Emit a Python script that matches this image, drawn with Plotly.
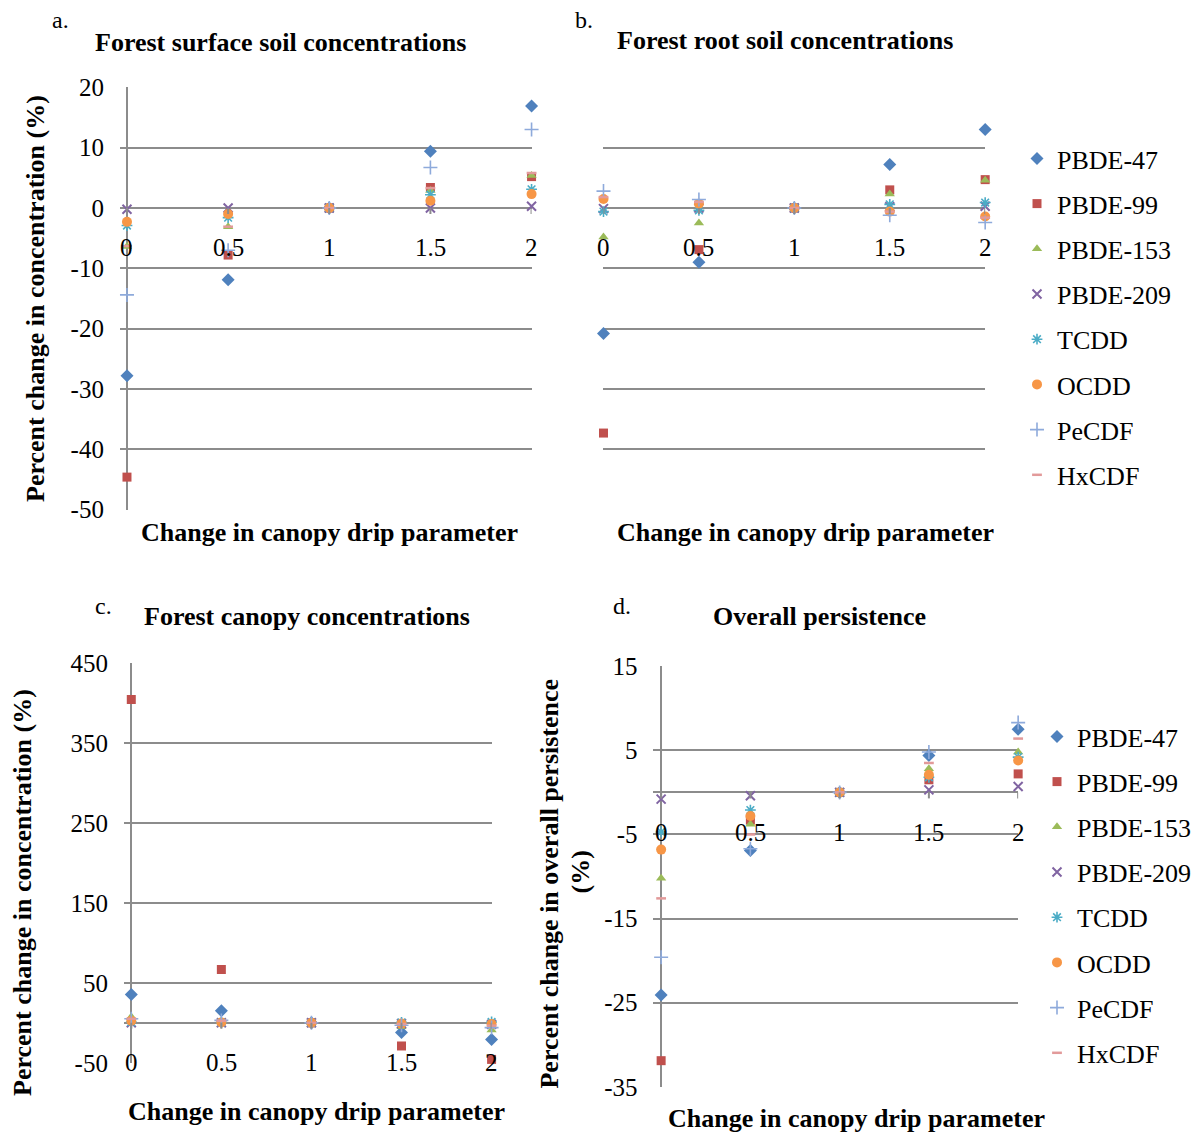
import plotly.graph_objects as go

# ---------------- data ----------------
X_VALUES = [0, 0.5, 1, 1.5, 2]
X_TICK_LABELS = ["0", "0.5", "1", "1.5", "2"]
SERIES = ["PBDE-47", "PBDE-99", "PBDE-153", "PBDE-209", "TCDD", "OCDD", "PeCDF", "HxCDF"]

surface_soil = {
    "PBDE-47": [-27.8, -11.9, 0, 9.4, 16.9],
    "PBDE-99": [-44.6, -7.8, 0, 3.4, 5.2],
    "PBDE-153": [-6.4, -3.1, 0, 2.9, 5.4],
    "PBDE-209": [-0.2, 0.0, 0, 0.0, 0.3],
    "TCDD": [-2.9, -1.6, 0, 2.2, 3.1],
    "OCDD": [-2.3, -1.0, 0, 1.2, 2.3],
    "PeCDF": [-14.4, -7.0, 0, 6.7, 13.0],
    "HxCDF": [-6.3, -3.1, 0, 3.3, 5.8],
}
root_soil = {
    "PBDE-47": [-20.8, -9.0, 0, 7.2, 13.0],
    "PBDE-99": [-37.3, -6.9, 0, 3.0, 4.7],
    "PBDE-153": [-4.8, -2.5, 0, 2.3, 4.6],
    "PBDE-209": [-0.1, 0.0, 0, 0.2, 0.3],
    "TCDD": [-0.6, -0.4, 0, 0.6, 0.9],
    "OCDD": [1.5, 0.7, 0, -0.6, -1.4],
    "PeCDF": [2.8, 1.4, 0, -1.2, -2.4],
    "HxCDF": [1.8, 1.0, 0, -0.6, -1.6],
}
canopy = {
    "PBDE-47": [35.5, 15.0, 0, -12.0, -20.8],
    "PBDE-99": [404.6, 66.7, 0, -29.0, -45.8],
    "PBDE-153": [7.5, 2.0, 0, -5.0, -9.0],
    "PBDE-209": [0.0, 0.0, 0, -1.0, -2.0],
    "TCDD": [1.0, 0.5, 0, 0.5, 1.0],
    "OCDD": [2.5, 0.5, 0, -1.0, -1.5],
    "PeCDF": [5.0, 3.0, 0, -3.0, -6.0],
    "HxCDF": [5.0, 2.5, 0, -1.5, -3.5],
}
persistence = {
    "PBDE-47": [-24.1, -6.9, 0, 4.4, 7.5],
    "PBDE-99": [-31.9, -3.3, 0, 1.5, 2.2],
    "PBDE-153": [-10.2, -3.8, 0, 2.8, 4.8],
    "PBDE-209": [-0.8, -0.4, 0, 0.3, 0.7],
    "TCDD": [-4.7, -2.1, 0, 1.8, 4.2],
    "OCDD": [-6.8, -2.8, 0, 2.1, 3.8],
    "PeCDF": [-19.6, -6.7, 0, 4.8, 8.3],
    "HxCDF": [-12.6, -5.0, 0, 3.5, 6.4],
}

Y_TICKS_SOIL = [20, 10, 0, -10, -20, -30, -40, -50]
Y_TICKS_CANOPY = [450, 350, 250, 150, 50, -50]
Y_TICKS_PERSIST = [15, 5, -5, -15, -25, -35]

# ---------------- styles ----------------
STYLE = {
    "PBDE-47": dict(symbol="diamond", color="#4F81BD", size=10, lw=0),
    "PBDE-99": dict(symbol="square", color="#C0504D", size=9, lw=0),
    "PBDE-153": dict(symbol="triangle-up", color="#9BBB59", size=9, lw=0),
    "PBDE-209": dict(symbol="x-thin-open", color="#8064A2", size=9, lw=2),
    "TCDD": dict(symbol="asterisk-open", color="#4BACC6", size=9, lw=1.6),
    "OCDD": dict(symbol="circle", color="#F79646", size=10, lw=0),
    "PeCDF": dict(symbol="cross-thin-open", color="#8EAADB", size=10, lw=1.6),
    "HxCDF": dict(symbol="line-ew-open", color="#E29A9A", size=7, lw=2.5),
}

W, H = 1197, 1133
FONT = "Liberation Serif, Times New Roman, serif"
GRID = "#8C8C8C"
TICK_SIZE = 25
TITLE_SIZE = 26


def px_x(p):
    return p / W


def px_y(p):
    return 1 - p / H


fig = go.Figure()

panels = [
    dict(data=surface_soil, xa="x", ya="y", xd=(120, 532), yd=(87, 510),
         xr=[-0.035, 2], yr=[-50.05, 20.05], yt=Y_TICKS_SOIL, axis=True, legend="legend", show=True),
    dict(data=root_soil, xa="x2", ya="y2", xd=(604, 986), yd=(87, 510),
         xr=[0, 2], yr=[-50.05, 20.05], yt=Y_TICKS_SOIL, axis=False, legend="legend", show=False),
    dict(data=canopy, xa="x3", ya="y3", xd=(124, 492), yd=(663, 1063),
         xr=[-0.041, 2], yr=[-50.3, 450.3], yt=Y_TICKS_CANOPY, axis=True, legend="legend2", show=False),
    dict(data=persistence, xa="x4", ya="y4", xd=(654, 1019), yd=(666, 1087),
         xr=[-0.043, 2], yr=[-35.03, 15.03], yt=Y_TICKS_PERSIST, axis=True, legend="legend2", show=True),
]

layout_axes = {}
annotations = []
shapes = []
for i, p in enumerate(panels):
    suffix = "" if i == 0 else str(i + 1)
    for name in SERIES:
        st = STYLE[name]
        fig.add_trace(go.Scatter(
            x=X_VALUES, y=p["data"][name], mode="markers", name=name,
            xaxis=p["xa"], yaxis=p["ya"], cliponaxis=False,
            legend=p["legend"], legendgroup=name + suffix, showlegend=p["show"],
            marker=dict(symbol=st["symbol"], color=st["color"], size=st["size"],
                        line=dict(color=st["color"], width=st["lw"])),
        ))
    layout_axes["xaxis" + suffix] = dict(
        domain=[px_x(p["xd"][0]), px_x(p["xd"][1])], range=p["xr"],
        anchor=p["ya"], showgrid=False, showticklabels=False, showline=False, ticks="",
        zeroline=p["axis"], zerolinecolor=GRID, zerolinewidth=2, fixedrange=True,
        automargin=False,
    )
    layout_axes["yaxis" + suffix] = dict(
        domain=[px_y(p["yd"][1]), px_y(p["yd"][0])], range=p["yr"],
        anchor=p["xa"], tickvals=p["yt"], ticktext=[str(v) for v in p["yt"]],
        showticklabels=p["axis"], ticklabelstandoff=15,
        tickfont=dict(family=FONT, size=TICK_SIZE, color="black"),
        showgrid=True, gridcolor=GRID, gridwidth=2,
        zeroline=True, zerolinecolor=GRID, zerolinewidth=2, showline=False, ticks="",
        fixedrange=True, automargin=False,
    )
    # x tick labels along the zero line, and small tick marks
    for xv, lab in zip(X_VALUES, X_TICK_LABELS):
        annotations.append(dict(
            x=xv, y=0, xref=p["xa"], yref=p["ya"], text=lab, showarrow=False,
            yshift=-40, font=dict(family=FONT, size=TICK_SIZE, color="black"),
        ))
        shapes.append(dict(
            type="line", xref=p["xa"], yref=p["ya"], x0=xv, x1=xv,
            ysizemode="pixel", yanchor=0, y0=0, y1=-6,
            line=dict(color=GRID, width=2),
        ))


# ---------------- text ----------------
def text(xp, yp, s, size=TITLE_SIZE, bold=False, angle=0, xanchor="center"):
    annotations.append(dict(
        x=px_x(xp), y=px_y(yp), xref="paper", yref="paper", text=("<b>%s</b>" % s) if bold else s,
        showarrow=False, textangle=angle, xanchor=xanchor, yanchor="middle",
        font=dict(family=FONT, size=size, color="black"),
    ))


text(61, 20, "a.", 24)
text(584, 20, "b.", 24)
text(104, 606, "c.", 24)
text(623, 606, "d.", 24)

text(281, 43, "Forest surface soil concentrations", TITLE_SIZE, True)
text(786, 40, "Forest root soil concentrations", TITLE_SIZE, True)
text(307, 616, "Forest canopy concentrations", TITLE_SIZE, True)
text(820, 616, "Overall persistence", TITLE_SIZE, True)

text(330, 532, "Change in canopy drip parameter", TITLE_SIZE, True)
text(806, 532, "Change in canopy drip parameter", TITLE_SIZE, True)
text(317, 1111, "Change in canopy drip parameter", TITLE_SIZE, True)
text(857, 1118, "Change in canopy drip parameter", TITLE_SIZE, True)

text(35, 298, "Percent change in concentration (%)", TITLE_SIZE, True, -90)
text(22, 892, "Percent change in concentration (%)", TITLE_SIZE, True, -90)
text(550, 884, "Percent change in overall persistence", TITLE_SIZE, True, -90)
text(580, 872, "(%)", TITLE_SIZE, True, -90)

legend_common = dict(
    xanchor="left", yanchor="top", bgcolor="rgba(0,0,0,0)",
    font=dict(family=FONT, size=26, color="black"),
    traceorder="grouped", tracegroupgap=8.4, itemsizing="trace",
)

fig.update_layout(
    width=W, height=H, margin=dict(l=0, r=0, t=0, b=0),
    paper_bgcolor="white", plot_bgcolor="white",
    font=dict(family=FONT, color="black"),
    annotations=annotations, shapes=shapes,
    legend=dict(x=px_x(1017), y=px_y(135), **legend_common),
    legend2=dict(x=px_x(1038), y=px_y(713), **legend_common),
    **layout_axes,
)

fig.write_html("out.html")
